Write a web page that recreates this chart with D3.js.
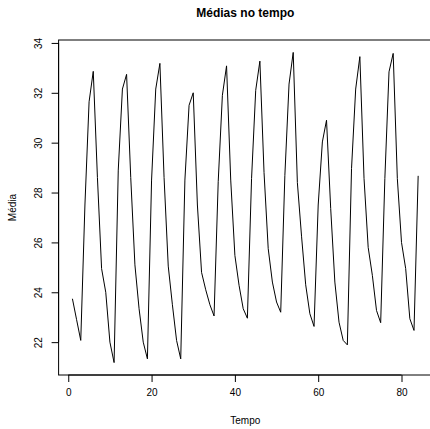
<!DOCTYPE html>
<html>
<head>
<meta charset="utf-8">
<script src="https://cdn.jsdelivr.net/npm/d3@7"></script>
<style>
  body { margin: 0; background: #fff; }
  text { font-family: "Liberation Sans", Arial, sans-serif; }
</style>
</head>
<body>
<div id="chart"></div>
<script>
// Mean value at each time step (Tempo = 1..84)
const medias = [
  23.74, 22.9, 22.07, 27.5, 31.64, 32.86, 28.6, 24.95, 24.0, 22.0,
  21.18, 28.9, 32.15, 32.74, 28.6, 25.1, 23.34, 22.0, 21.33, 28.5,
  32.15, 33.18, 28.6, 25.05, 23.5, 22.07, 21.33, 28.5, 31.5, 32.0,
  27.5, 24.8, 24.1, 23.5, 23.05, 28.45, 31.9, 33.08, 28.5, 25.48,
  24.28, 23.34, 22.96, 28.56, 32.1, 33.27, 28.8, 25.75, 24.41, 23.61,
  23.2, 28.69, 32.35, 33.62, 28.4, 26.25, 24.3, 23.14, 22.63, 27.5,
  30.03, 30.9, 27.36, 24.41, 22.8, 22.07, 21.89, 28.96, 32.15, 33.45,
  28.57, 25.8, 24.68, 23.27, 22.78, 28.56, 32.84, 33.58, 28.56, 26.0,
  24.95, 22.94, 22.47, 28.67
];
const xTicks = [0, 20, 40, 60, 80];
const yTicks = [22, 24, 26, 28, 30, 32, 34];

const data = medias.map((v, i) => ({ tempo: i + 1, media: v }));

const W = 430, H = 429;
// plot box (R style, right edge runs past the picture)
const box = { left: 58.6, right: 432, top: 40, bottom: 375 };

const svg = d3.select("#chart").append("svg")
    .attr("width", W)
    .attr("height", H);

// R pads the data range by 4% on each side
const xExt = d3.extent(data, d => d.tempo);
const xPad = (xExt[1] - xExt[0]) * 0.04;
const yExt = d3.extent(data, d => d.media);
const yPad = (yExt[1] - yExt[0]) * 0.04;

const x = d3.scaleLinear()
    .domain([xExt[0] - xPad, xExt[1] + xPad])
    .range([box.left, box.right]);

const y = d3.scaleLinear()
    .domain([yExt[0] - yPad, yExt[1] + yPad])
    .range([box.bottom, box.top]);

// box
svg.append("rect")
    .attr("x", box.left)
    .attr("y", box.top)
    .attr("width", box.right - box.left)
    .attr("height", box.bottom - box.top)
    .attr("fill", "none")
    .attr("stroke", "black")
    .attr("stroke-width", 1);

// x axis
const xAxis = svg.append("g")
    .attr("transform", `translate(0,${box.bottom})`)
    .call(d3.axisBottom(x).tickValues(xTicks).tickSize(7).tickPadding(7).tickSizeOuter(0));
xAxis.select(".domain")
    .attr("d", `M${x(xTicks[0])},0H${x(xTicks[xTicks.length - 1])}`);
xAxis.selectAll("text")
    .attr("font-size", 10)
    .attr("font-family", "Liberation Sans, Arial, sans-serif");

// y axis
const yAxis = svg.append("g")
    .attr("transform", `translate(${box.left},0)`)
    .call(d3.axisLeft(y).tickValues(yTicks).tickSize(7).tickSizeOuter(0));
yAxis.select(".domain")
    .attr("d", `M0,${y(yTicks[0])}V${y(yTicks[yTicks.length - 1])}`);
yAxis.selectAll("text")
    .attr("font-size", 10)
    .attr("font-family", "Liberation Sans, Arial, sans-serif")
    .attr("text-anchor", "middle")
    .attr("dy", null)
    .attr("x", null)
    .attr("transform", "translate(-17,0) rotate(-90)");

// the series
const line = d3.line()
    .x(d => x(d.tempo))
    .y(d => y(d.media));

svg.append("path")
    .datum(data)
    .attr("d", line)
    .attr("fill", "none")
    .attr("stroke", "black")
    .attr("stroke-width", 1);

// title and axis labels
svg.append("text")
    .attr("x", (box.left + box.right) / 2)
    .attr("y", 17)
    .attr("text-anchor", "middle")
    .attr("font-size", 12)
    .attr("font-weight", "bold")
    .text("Médias no tempo");

svg.append("text")
    .attr("x", (box.left + box.right) / 2)
    .attr("y", 424)
    .attr("text-anchor", "middle")
    .attr("font-size", 10)
    .text("Tempo");

svg.append("text")
    .attr("transform", `translate(16,${(box.top + box.bottom) / 2}) rotate(-90)`)
    .attr("text-anchor", "middle")
    .attr("font-size", 10)
    .text("Média");
</script>
</body>
</html>
